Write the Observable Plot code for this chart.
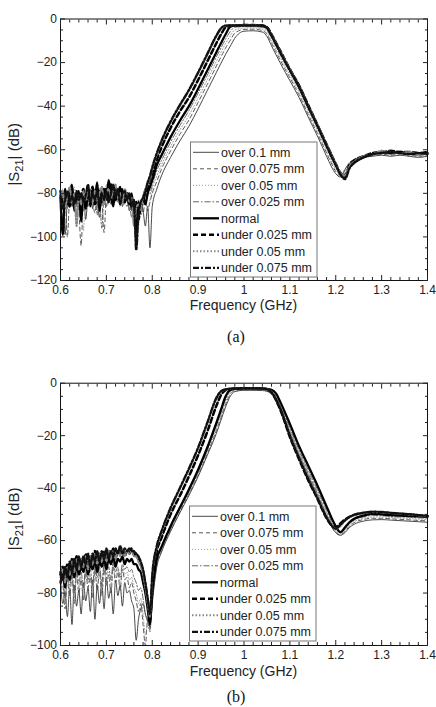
<!DOCTYPE html>
<html>
<head>
<meta charset="utf-8">
<script src="https://cdn.jsdelivr.net/npm/d3@7"></script>
<script src="https://cdn.jsdelivr.net/npm/@observablehq/plot@0.6"></script>
<style>
  body { margin: 0; background: #fff; }
  #page { position: relative; width: 436px; height: 707px; overflow: hidden;
          font-family: Arial, "Liberation Sans", sans-serif; }
  .panel { position: absolute; left: 0; }
  .panel svg text { font-family: Arial, "Liberation Sans", sans-serif; }
  .cap { position: absolute; width: 60px; text-align: center;
         font-family: "Liberation Serif", "Times New Roman", serif; font-size: 16px; color: #111; }
</style>
</head>
<body>
<div id="page"></div>
<script>
// Frequency samples (GHz): fine steps over the stopband floor, coarser over the passband and tail
const freq = [
  0.600,0.605,0.610,0.615,0.620,0.625,0.630,0.635,0.640,0.645,
  0.650,0.655,0.660,0.665,0.670,0.675,0.680,0.685,0.690,0.695,
  0.700,0.705,0.710,0.715,0.720,0.725,0.730,0.735,0.740,0.745,
  0.750,0.755,0.760,0.765,0.770,0.775,0.780,0.785,0.790,0.795,
  0.80,0.81,0.82,0.84,0.86,0.88,0.90,0.92,0.94,0.95,
  0.96,0.97,0.98,1.00,1.02,1.04,1.05,1.06,1.07,1.08,
  1.10,1.12,1.14,1.16,1.18,1.19,1.20,1.21,1.22,1.23,
  1.24,1.26,1.28,1.30,1.32,1.34,1.36,1.38,1.40
];

const seriesNames = ["over 0.1 mm", "over 0.075 mm", "over 0.05 mm", "over 0.025 mm",
                     "normal", "under 0.025 mm", "under 0.05 mm", "under 0.075 mm"];

// |S21| in dB, panel (a)
const aOver01 = [
  -88,-80,-99,-83,-78,-86,-82,-90,-80,-84, -79,-92,-81,-78,-87,-80,-84,-91,-79,-82,
  -86,-80,-78,-84,-80,-83,-79,-86,-81,-80, -88,-84,-92,-86,-90,-84,-88,-95,-86,-105,
  -86,-78,-72,-63.5,-56,-49.2,-41.2,-32.8,-24.4,-20.2, -16.2,-12.5,-8.8,-5.6,-5.4,-6,-8,-12.3,-16.5,-20.6,
  -28.3,-36,-45,-53.7,-63,-67.5,-71,-72.5,-69,-66, -64.5,-63.5,-63,-62.5,-63,-62.5,-63,-63.5,-63];
const aOver0075 = [
  -80,-86,-84,-100,-82,-79,-84,-80,-88,-104, -81,-80,-86,-79,-84,-89,-80,-78,-83,-98,
  -81,-79,-85,-80,-82,-78,-84,-80,-83,-86, -82,-88,-84,-92,-87,-85,-89,-83,-88,-84,
  -80,-74.5,-69,-60.5,-53,-46.3,-38.3,-30,-21.5,-17.3, -13.3,-9.8,-6.5,-4.8,-4.7,-5.3,-7,-11,-15.2,-19.3,
  -27,-34.8,-43.8,-52.5,-61.5,-66,-70,-72,-69.5,-66, -64.5,-63,-62.5,-62,-62.5,-62,-62.5,-63,-62.5];
const aOver005 = [
  -84,-78,-88,-81,-85,-80,-77,-84,-82,-86, -97,-80,-83,-78,-85,-81,-87,-79,-82,-80,
  -76,-85,-81,-79,-84,-81,-86,-78,-82,-80, -87,-83,-86,-89,-95,-84,-86,-82,-87,-83,
  -78,-72,-67,-58.5,-51,-44.2,-36.2,-27.8,-19.4,-15.2, -11.2,-7.8,-5,-4.2,-4.1,-4.6,-6.2,-10,-14,-18,
  -25.8,-33.5,-42.5,-51.2,-60.5,-65,-69,-71.5,-70,-66.5, -65,-63,-62.5,-62,-61.5,-62,-62.5,-62,-62.5];
const aOver0025 = [
  -86,-82,-80,-87,-79,-84,-81,-86,-83,-80, -88,-82,-79,-85,-81,-78,-90,-82,-96,-81,
  -79,-83,-78,-82,-80,-84,-81,-79,-85,-83, -84,-91,-85,-88,-83,-90,-85,-84,-81,-80,
  -76,-69.5,-65,-56.5,-49,-42,-34,-25.8,-17.3,-13.2, -9.2,-5.8,-3.8,-3.5,-3.5,-3.9,-5.2,-8.7,-12.7,-16.8,
  -24.5,-32.3,-41.2,-50,-59.2,-63.7,-68,-71.5,-71,-67, -65,-63.5,-62.5,-61.5,-62,-61.5,-62,-62.5,-62];
const aNormal = [
  -82,-99,-78,-85,-80,-76,-88,-81,-79,-93, -80,-84,-77,-86,-79,-82,-75,-88,-80,-78,
  -83,-74,-81,-86,-78,-80,-77,-84,-79,-82, -85,-80,-90,-98,-84,-88,-82,-85,-80,-77,
  -74,-67,-62.6,-54.2,-46.8,-40,-32,-23.6,-15.2,-11, -7,-3.6,-3,-2.9,-2.9,-3.1,-4,-7.5,-11.5,-15.6,
  -23.3,-31,-40,-48.7,-58,-62.5,-66.7,-71,-73,-68, -66,-63.5,-62,-61,-61.5,-61,-61.8,-62,-61.5];
const aUnder0025 = [
  -79,-84,-82,-80,-86,-78,-83,-80,-85,-82, -78,-87,-80,-83,-77,-85,-81,-79,-84,-80,
  -78,-82,-76,-80,-83,-79,-81,-78,-84,-80, -82,-86,-88,-84,-92,-85,-83,-80,-78,-74,
  -71,-64.5,-59,-50,-42.5,-36,-28,-19.5,-11,-7, -3.8,-3,-2.9,-2.8,-2.8,-3,-3.8,-7,-11,-15,
  -23,-30.5,-39.5,-48.5,-57.5,-62,-66.5,-70.5,-72,-67, -65,-63,-61.5,-61,-60.5,-61,-61,-61.5,-61];
const aUnder005 = [
  -83,-79,-86,-82,-77,-84,-80,-95,-81,-85, -79,-83,-78,-80,-84,-79,-83,-80,-77,-85,
  -80,-78,-82,-79,-76,-82,-80,-84,-78,-81, -84,-82,-95,-87,-85,-88,-81,-78,-76,-73,
  -69,-62,-56.5,-47.5,-40,-33,-25,-16.5,-8,-4.5, -3.1,-2.9,-2.9,-2.9,-2.9,-3.1,-4,-7.3,-11.3,-15.3,
  -23,-31,-40,-48.5,-57.8,-62.3,-66.5,-70.5,-72,-67.5, -65.5,-63,-62,-60.5,-61,-61.5,-61,-62,-62];
const aUnder0075 = [
  -81,-87,-83,-79,-84,-81,-85,-79,-83,-80, -84,-81,-76,-84,-80,-83,-79,-85,-80,-83,
  -79,-84,-80,-76,-82,-78,-85,-80,-79,-83, -80,-86,-83,-106,-90,-84,-82,-79,-75,-72,
  -68,-61.5,-56,-47,-39.5,-32.5,-24.5,-16,-7.5,-4.2, -3,-2.9,-2.9,-2.9,-2.9,-3.1,-4.1,-7.6,-11.6,-15.7,
  -23.5,-31.2,-40.3,-49,-58.2,-62.8,-67,-71.2,-73.5,-68.5, -66,-63.5,-62,-61.5,-61,-61.5,-62,-61.5,-62];

// |S21| in dB, panel (b)
const bOver01 = [
  -76,-84,-80,-89,-78,-92,-77,-85,-79,-88, -76,-83,-78,-87,-75,-90,-77,-84,-76,-86,
  -74,-82,-78,-88,-75,-81,-77,-85,-76,-80, -79,-83,-86,-98,-90,-86,-84,-88,-91,-93,
  -84,-70,-64.5,-56.5,-49.5,-42.8,-35.6,-27.5,-19,-14, -9,-5,-3.2,-2.7,-2.7,-2.8,-3.1,-4.2,-6.6,-10.7,
  -19.2,-27.7,-35.2,-42.7,-50.8,-54.5,-57,-58,-57,-55, -53.8,-52.6,-52.1,-52,-52.2,-52.4,-52.6,-52.8,-53];
const bOver0075 = [
  -79,-77,-86,-75,-81,-74,-84,-73,-80,-75, -83,-72,-78,-74,-82,-71,-79,-72,-81,-71,
  -77,-73,-80,-70,-76,-72,-79,-71,-75,-74, -78,-76,-80,-83,-87,-84,-92,-100,-90,-93,
  -83,-69,-64,-56,-49,-42.2,-35,-26.8,-18,-13, -8,-4.2,-2.9,-2.5,-2.5,-2.6,-2.9,-3.8,-6,-10,
  -18.5,-27,-34.5,-42,-50.2,-54,-56.8,-57.8,-56.5,-54.5, -53.2,-52,-51.5,-51.5,-51.7,-51.9,-52.1,-52.3,-52.5];
const bOver005 = [
  -80,-75,-84,-74,-79,-73,-83,-72,-78,-74, -81,-71,-76,-73,-80,-70,-77,-71,-79,-70,
  -75,-72,-78,-69,-74,-71,-77,-70,-73,-72, -75,-74,-78,-80,-84,-82,-88,-96,-92,-95,
  -82,-68,-63.5,-55.5,-48.5,-41.6,-34.3,-26,-17,-12, -7,-3.5,-2.6,-2.3,-2.3,-2.4,-2.6,-3.5,-5.5,-9.3,
  -17.8,-26.2,-33.8,-41.3,-49.5,-53.5,-56.3,-57.5,-56,-54, -52.7,-51.5,-51,-51,-51.2,-51.4,-51.6,-51.8,-52];
const bOver0025 = [
  -78,-74,-82,-73,-77,-72,-80,-71,-76,-72, -78,-70,-75,-71,-77,-69,-74,-70,-76,-69,
  -73,-70,-75,-68,-72,-70,-74,-69,-71,-70, -72,-71,-74,-76,-79,-78,-82,-88,-90,-94,
  -81,-67.5,-63,-55,-48,-41,-33.7,-25.3,-16,-11, -6,-3,-2.4,-2.2,-2.2,-2.3,-2.5,-3.2,-5,-8.7,
  -17,-25.5,-33,-40.5,-48.5,-52.5,-55.5,-57,-55.5,-53.5, -52.2,-51,-50.4,-50.5,-50.8,-51,-51.1,-51.3,-51.5];
const bNormal = [
  -76,-72,-78,-71,-75,-70,-74,-69,-73,-70, -72,-68,-73,-69,-71,-67,-72,-68,-70,-67,
  -71,-67,-69,-66,-70,-67,-68,-66,-69,-67, -68,-67,-69,-69,-71,-72,-76,-80,-86,-92,
  -80,-67,-62.5,-54.5,-47.5,-40.5,-33,-24.5,-15,-10, -5,-2.6,-2.2,-2,-2,-2.1,-2.2,-2.5,-4,-7.5,
  -15.5,-24,-31.5,-39,-47,-51,-54.5,-56.8,-55,-53, -51.7,-50.5,-49.8,-50,-50.3,-50.5,-50.6,-50.8,-51];
const bUnder0025 = [
  -73,-70,-75,-69,-72,-67,-71,-66,-70,-67, -69,-65,-70,-66,-68,-64,-69,-65,-67,-64,
  -68,-64,-66,-63,-67,-64,-65,-63,-66,-64, -65,-63,-65,-66,-67,-69,-72,-77,-83,-90,
  -76,-64,-59,-50,-43,-35.5,-27.5,-18.5,-8.5,-4.5, -2.6,-2.2,-2,-1.9,-1.9,-2,-2.3,-3.5,-6.5,-10.5,
  -20.5,-29,-37,-44,-51.5,-54,-55,-53.5,-52,-51, -50.2,-49.5,-49.2,-49.3,-49.6,-49.8,-50,-50.3,-50.6];
const bUnder005 = [
  -74,-71,-76,-70,-73,-68,-72,-67,-71,-67, -70,-66,-71,-66,-69,-65,-69,-65,-68,-65,
  -68,-64,-67,-64,-67,-64,-66,-63,-66,-64, -65,-64,-66,-66,-68,-70,-73,-78,-84,-89,
  -74,-62.5,-57,-48,-40.5,-33,-25,-15.5,-6,-3.3, -2.4,-2.1,-2,-1.9,-1.9,-2,-2.3,-3.2,-5.8,-9.5,
  -19,-27.5,-35.5,-43,-50.5,-53.5,-55.5,-54.5,-52.5,-51.2, -50.3,-49.5,-49.2,-49.2,-49.5,-49.8,-50.1,-50.4,-50.7];
const bUnder0075 = [
  -72,-75,-70,-74,-68,-72,-67,-71,-66,-70, -66,-69,-65,-70,-65,-68,-64,-68,-64,-67,
  -63,-67,-64,-66,-63,-65,-62,-65,-63,-64, -63,-64,-64,-65,-66,-68,-71,-76,-82,-88,
  -73,-62,-56.5,-47.5,-40,-32.5,-24.5,-15,-5.5,-3, -2.3,-2.1,-2,-1.9,-1.9,-2,-2.3,-3.4,-6.2,-10,
  -20,-28.5,-36.5,-43.8,-51.2,-54,-55.5,-54,-52.3,-51, -50.2,-49.4,-49,-49.1,-49.4,-49.7,-50,-50.3,-50.6];

const xTicks = [0.6, 0.7, 0.8, 0.9, 1, 1.1, 1.2, 1.3, 1.4];
const xMinor = [0.62,0.64,0.66,0.68,0.72,0.74,0.76,0.78,0.82,0.84,0.86,0.88,0.92,0.94,0.96,0.98,
                1.02,1.04,1.06,1.08,1.12,1.14,1.16,1.18,1.22,1.24,1.26,1.28,1.32,1.34,1.36,1.38];
const yTicksA = [0, -20, -40, -60, -80, -100, -120];
const yTicksB = [0, -20, -40, -60, -80, -100];

// Line appearance per series
const lineStyle = {
  "over 0.1 mm":    {stroke: "#333", width: 0.9, dash: null},
  "over 0.075 mm":  {stroke: "#444", width: 0.9, dash: "4,3"},
  "over 0.05 mm":   {stroke: "#999", width: 1.0, dash: "1,2"},
  "over 0.025 mm":  {stroke: "#555", width: 0.9, dash: "6,2,1.5,2"},
  "normal":         {stroke: "#000", width: 2.3, dash: null},
  "under 0.025 mm": {stroke: "#000", width: 2.5, dash: "5,3"},
  "under 0.05 mm":  {stroke: "#888", width: 2.0, dash: "1.5,2"},
  "under 0.075 mm": {stroke: "#111", width: 2.3, dash: "6,2,2,2"}
};

const FONT = "Arial, 'Liberation Sans', sans-serif";
const fmtDb = d => d === 0 ? "0" : "\u2212" + Math.abs(d);

function drawPanel({values, yDomain, yTicks, top, height, marginTop, marginBottom, legendX, legendY, xLabelY}) {
  const rows = [];
  seriesNames.forEach((name, i) => {
    values[i].forEach((v, j) => rows.push({series: name, f: freq[j], dB: v}));
  });
  const yMinor = d3.range(yDomain[0], yDomain[1] + 0.001, 5).filter(v => v % 20 !== 0);
  const marginLeft = 60, marginRight = 9, width = 436;

  const lines = seriesNames.map(name => {
    const s = lineStyle[name];
    return Plot.line(rows.filter(d => d.series === name), {
      x: "f", y: "dB", curve: "monotone-x",
      stroke: s.stroke, strokeWidth: s.width, strokeDasharray: s.dash,
      strokeLinejoin: "round"
    });
  });

  const svg = Plot.plot({
    width, height, marginTop, marginBottom, marginLeft, marginRight,
    style: {fontFamily: FONT, fontSize: "12px", color: "#222", background: "transparent"},
    x: {domain: [0.6, 1.4]},
    y: {domain: yDomain},
    marks: [
      ...lines,
      Plot.frame({stroke: "#111", strokeWidth: 1}),
      // tick labels
      Plot.axisX(xTicks, {anchor: "bottom", tickSize: 0, tickPadding: 4.5, label: null, tickFormat: d => String(d)}),
      Plot.axisY(yTicks, {anchor: "left", tickSize: 0, tickPadding: 3.5, label: null, tickFormat: fmtDb}),
      // inward ticks on all four sides
      Plot.axisX(xTicks, {anchor: "bottom", tickSize: -5, fill: "none", label: null}),
      Plot.axisX(xTicks, {anchor: "top", tickSize: -5, fill: "none", label: null}),
      Plot.axisX(xMinor, {anchor: "bottom", tickSize: -3, fill: "none", label: null}),
      Plot.axisX(xMinor, {anchor: "top", tickSize: -3, fill: "none", label: null}),
      Plot.axisY(yTicks, {anchor: "left", tickSize: -5, fill: "none", label: null}),
      Plot.axisY(yTicks, {anchor: "right", tickSize: -5, fill: "none", label: null}),
      Plot.axisY(yMinor, {anchor: "left", tickSize: -3, fill: "none", label: null}),
      Plot.axisY(yMinor, {anchor: "right", tickSize: -3, fill: "none", label: null})
    ]
  });

  const g = d3.select(svg);
  const frameMidX = marginLeft + (width - marginLeft - marginRight) / 2;
  const frameMidY = marginTop + (height - marginTop - marginBottom) / 2;

  // x axis title
  g.append("text")
    .attr("x", frameMidX).attr("y", xLabelY)
    .attr("text-anchor", "middle")
    .style("font-family", FONT).style("font-size", "14px").style("fill", "#222")
    .text("Frequency (GHz)");

  // y axis title with subscript
  const yl = g.append("text")
    .attr("transform", `translate(19,${frameMidY + 5}) rotate(-90)`)
    .attr("text-anchor", "middle")
    .style("font-family", FONT).style("font-size", "15px").style("fill", "#222");
  yl.append("tspan").text("|S");
  yl.append("tspan").attr("dy", 4).style("font-size", "11px").text("21");
  yl.append("tspan").attr("dy", -4).text("| (dB)");

  // legend box
  const lg = g.append("g").attr("transform", `translate(${legendX},${legendY})`);
  lg.append("rect").attr("width", 126.5).attr("height", 135)
    .attr("fill", "#fff").attr("stroke", "#777").attr("stroke-width", 1);
  seriesNames.forEach((name, i) => {
    const s = lineStyle[name];
    const y = 10.3 + i * 16.5;
    lg.append("line").attr("x1", 2.5).attr("x2", 28.5).attr("y1", y).attr("y2", y)
      .attr("stroke", s.stroke).attr("stroke-width", s.width)
      .attr("stroke-dasharray", s.dash);
    lg.append("text").attr("x", 30.5).attr("y", y).attr("dy", "0.36em")
      .attr("text-anchor", "start")
      .style("font-family", FONT).style("font-size", "12.5px").style("fill", "#222").text(name);
  });

  const holder = document.createElement("div");
  holder.className = "panel";
  holder.style.top = top + "px";
  holder.appendChild(svg);
  document.getElementById("page").appendChild(holder);
}

function caption(text, centerY) {
  const c = document.createElement("div");
  c.className = "cap";
  c.style.left = (236 - 30) + "px";
  c.style.top = (centerY - 10) + "px";
  c.textContent = text;
  document.getElementById("page").appendChild(c);
}

drawPanel({
  values: [aOver01, aOver0075, aOver005, aOver0025, aNormal, aUnder0025, aUnder005, aUnder0075],
  yDomain: [-120, 0], yTicks: yTicksA,
  top: 0, height: 320, marginTop: 18.5, marginBottom: 40,
  legendX: 190.5, legendY: 142, xLabelY: 310
});
caption("(a)", 338);

drawPanel({
  values: [bOver01, bOver0075, bOver005, bOver0025, bNormal, bUnder0025, bUnder005, bUnder0075],
  yDomain: [-100, 0], yTicks: yTicksB,
  top: 360, height: 320, marginTop: 22.7, marginBottom: 35,
  legendX: 189.5, legendY: 146, xLabelY: 315.5
});
caption("(b)", 698);
</script>
</body>
</html>
